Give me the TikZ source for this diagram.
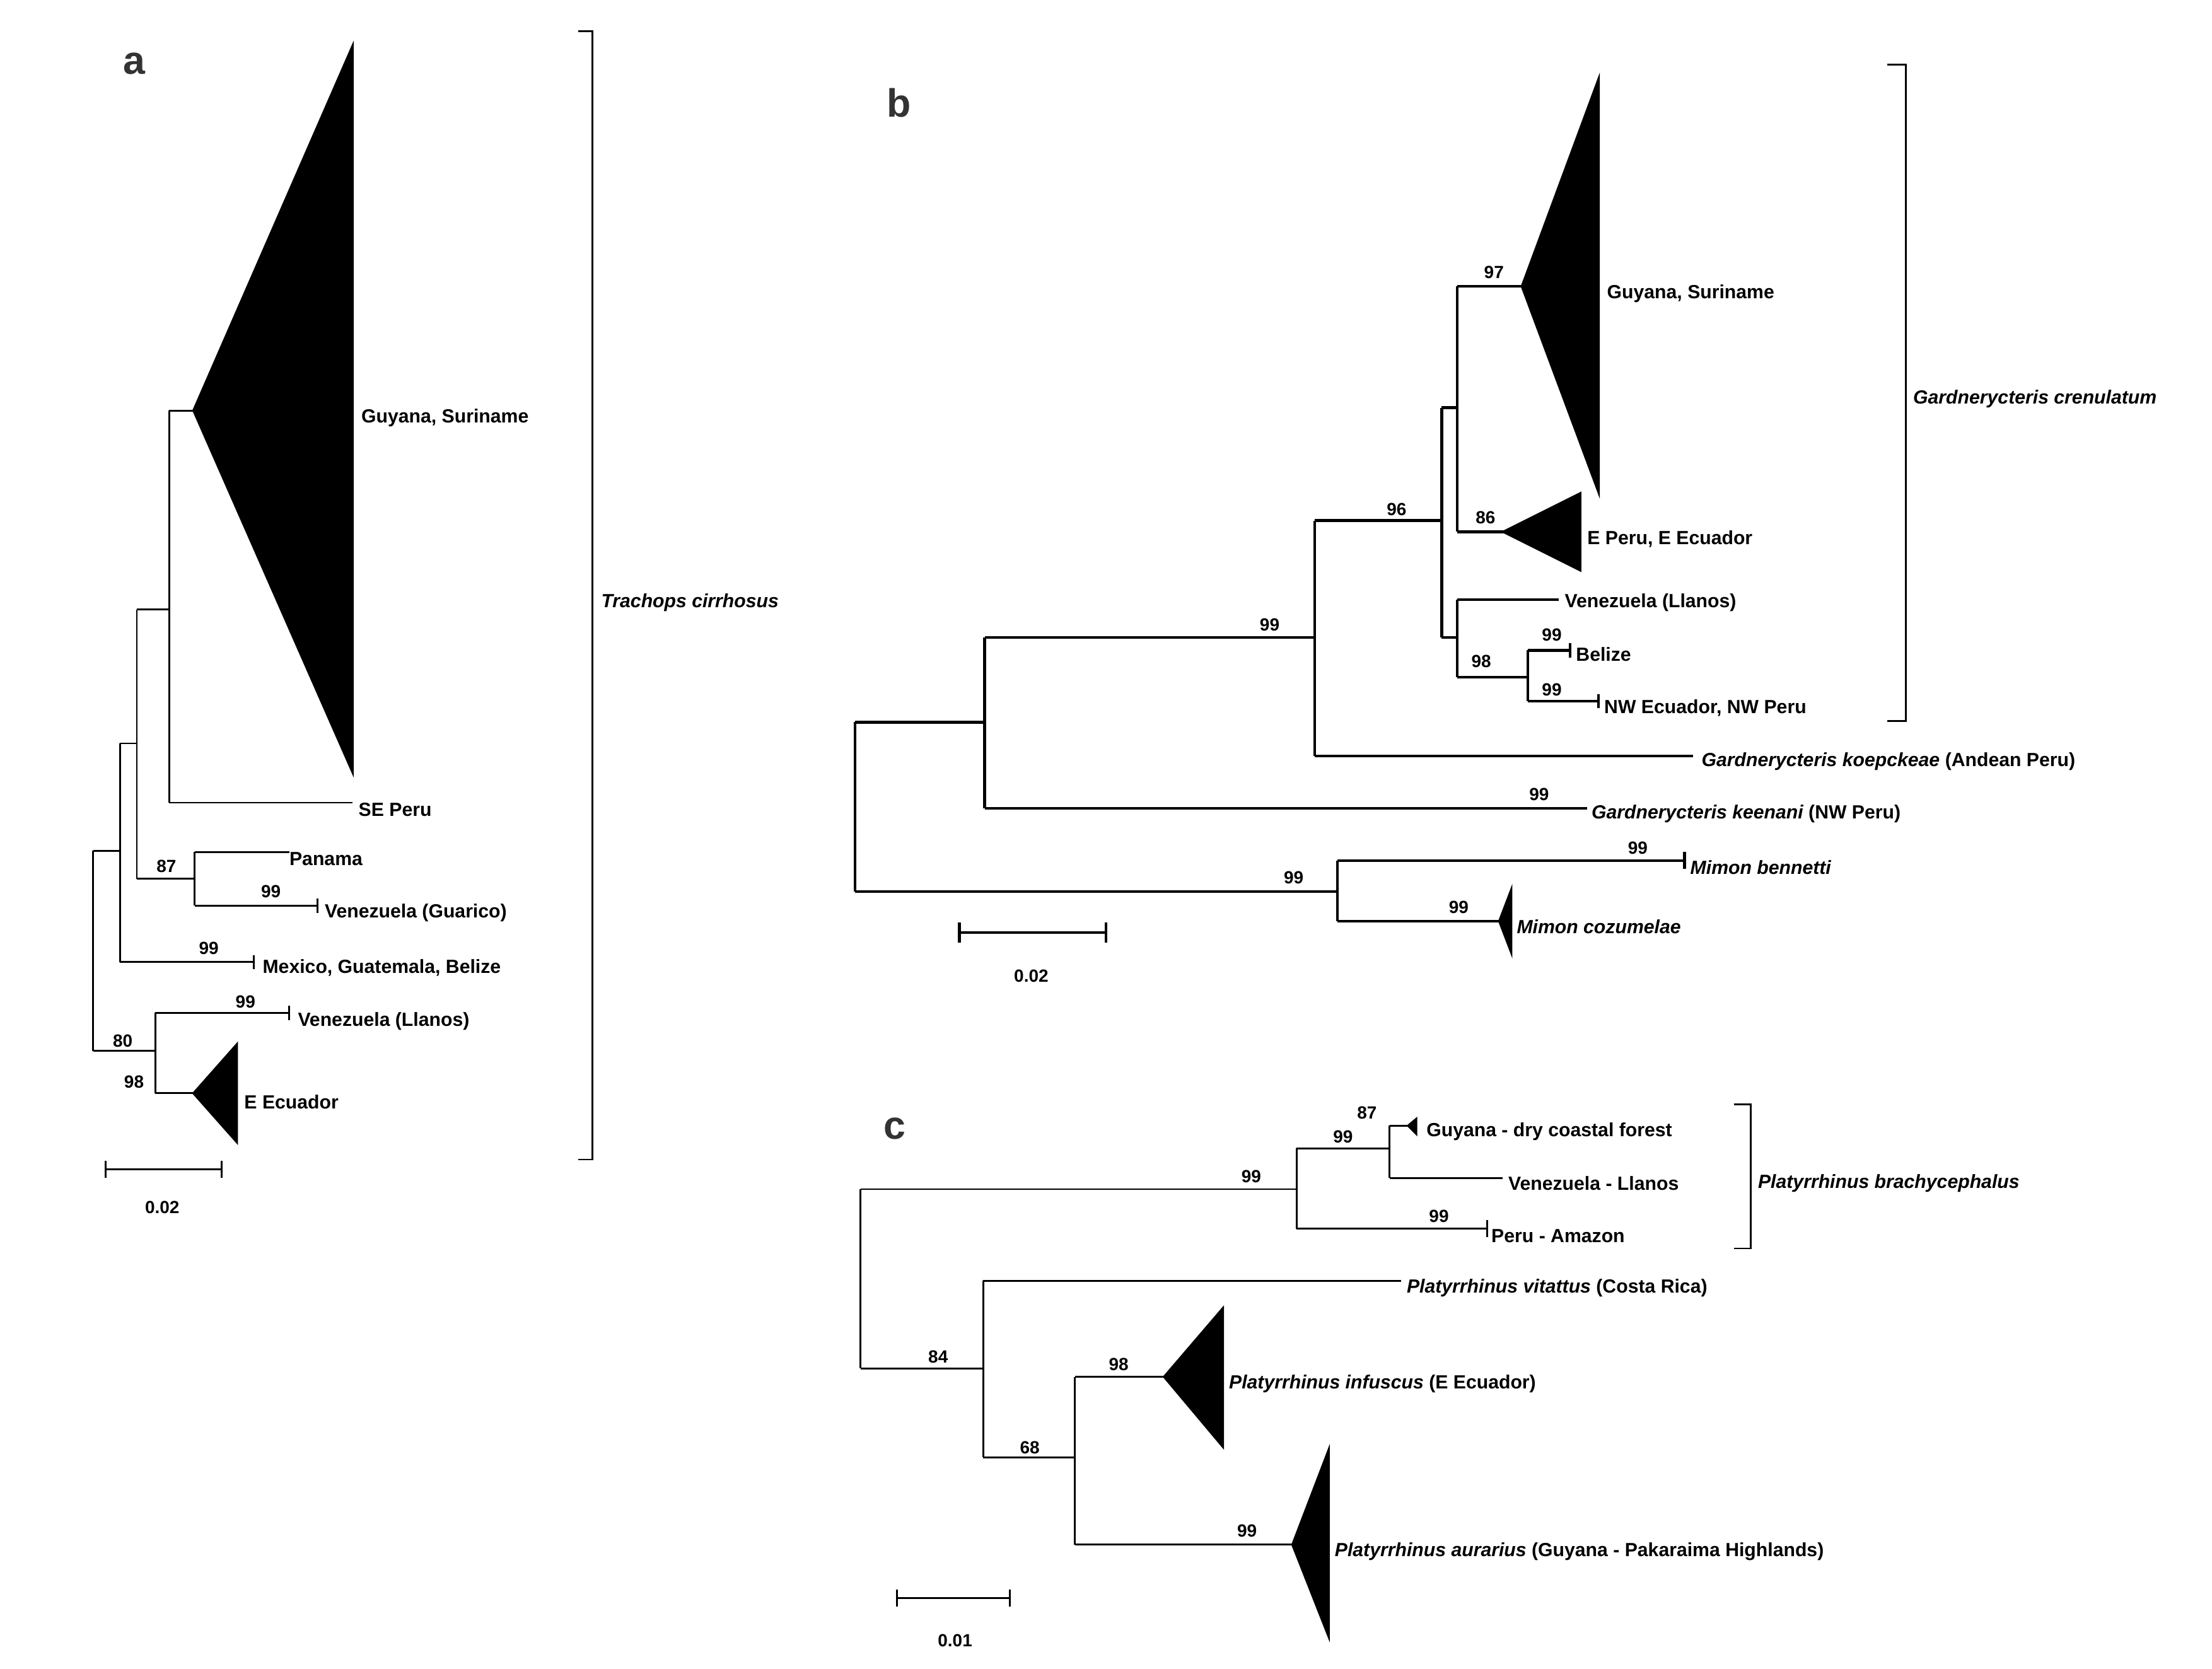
\documentclass[tikz,border=0pt]{standalone}
\usepackage{fontspec}
\setmainfont{Liberation Sans}
\begin{document}
\begin{tikzpicture}[x=1pt,y=-1pt,
 br/.style={line width=1.3pt},
 bb/.style={line width=2pt},
 lab/.style={font=\fontsize{13.5}{15}\selectfont\bfseries,anchor=west,inner sep=1pt},
 bs/.style={font=\fontsize{12.5}{14}\selectfont\bfseries,inner sep=1pt},
 pl/.style={font=\fontsize{28}{30}\selectfont\bfseries,text=black!80},
 tri/.style={fill=black,draw=black}]
\useasboundingbox (0,0) rectangle (1568,1183);
% ===== panel a
\node[pl] (pa) at (95,45) {a};
\begin{scope}[br]
\coordinate (ar) at (66,603);
\draw (66,603) -- (66,745);
\draw (66,603) -- (85,603) (85,527) -- (85,682);
\draw (85,527) -- (97,527) (97,432) -- (97,623);
\draw (97,432) -- (120,432) (120,291) -- (120,569);
\draw (120,291) -- (137,291);
\draw[tri] (137,291) -- (250,32) -- (250,548) -- cycle;
\draw (120,569) -- (250,569);
\draw (97,623) -- (138,623) (138,604) -- (138,642);
\draw (138,604) -- (205,604);
\draw (138,642) -- (225,642) (225,637) -- (225,647);
\draw (85,682) -- (180,682) (180,677) -- (180,687);
\draw (66,745) -- (110,745) (110,718) -- (110,775);
\draw (110,718) -- (205,718) (205,713) -- (205,723);
\draw (110,775) -- (137,775);
\draw[tri] (137,775) -- (168,740) -- (168,810) -- cycle;
\draw (75,829) -- (157,829) (75,823) -- (75,835) (157,823) -- (157,835);
\draw (410,22) -- (420,22) -- (420,822) -- (410,822);
\end{scope}
\node[lab] (a1) at (255,296) {Guyana, Suriname};
\node[lab] (a2) at (253,574) {SE Peru};
\node[lab] (a3) at (204,609) {Panama};
\node[lab] (a4) at (229,647) {Venezuela (Guarico)};
\node[lab] (a5) at (185,686) {Mexico, Guatemala, Belize};
\node[lab] (a6) at (210,724) {Venezuela (Llanos)};
\node[lab] (a7) at (172,781) {E Ecuador};
\node[bs] (ab1) at (118,614) {87};
\node[bs] (ab2) at (192,632) {99};
\node[bs] (ab3) at (148,672) {99};
\node[bs] (ab4) at (174,710) {99};
\node[bs] (ab5) at (87,738) {80};
\node[bs] (ab6) at (95,767) {98};
\node[bs] (asc) at (115,856) {0.02};
\node[lab,font=\fontsize{13.5}{15}\selectfont\bfseries\itshape] (asp) at (425,427) {Trachops cirrhosus};
% ===== panel b
\node[pl] (pb) at (637,73) {b};
\begin{scope}[bb]
\draw (606,512) -- (606,632);
\draw (606,512) -- (698,512) (698,452) -- (698,573);
\draw (698,452) -- (932,452) (932,369) -- (932,536);
\draw (698,573) -- (1125,573);
\draw (932,536) -- (1200,536);
\draw (932,369) -- (1022,369) (1022,289) -- (1022,452);
\draw (1022,289) -- (1033,289) (1033,203) -- (1033,377);
\draw (1033,203) -- (1079,203);
\draw[tri] (1079,203) -- (1133,57) -- (1133,348) -- cycle;
\draw (1033,377) -- (1066,377);
\draw[tri] (1066,377) -- (1120,350) -- (1120,404) -- cycle;
\draw (1022,452) -- (1033,452) (1033,425) -- (1033,480);
\draw (1033,425) -- (1105,425);
\draw (1033,480) -- (1083,480) (1083,461) -- (1083,497);
\draw (1083,461) -- (1113,461) (1113,456) -- (1113,466);
\draw (1083,497) -- (1133,497) (1133,492) -- (1133,502);
\draw (606,632) -- (948,632) (948,610) -- (948,653);
\draw (948,610) -- (1194,610) (1194,604) -- (1194,616);
\draw (948,653) -- (1063,653);
\draw[tri] (1063,653) -- (1071,632) -- (1071,674) -- cycle;
\draw (680,661) -- (784,661) (680,654) -- (680,668) (784,654) -- (784,668);
\end{scope}
\draw[br] (1338,46) -- (1351,46) -- (1351,511) -- (1338,511);
\node[lab] (b1) at (1138,208) {Guyana, Suriname};
\node[lab] (b2) at (1124,382) {E Peru, E Ecuador};
\node[lab] (b3) at (1108,427) {Venezuela (Llanos)};
\node[lab] (b4) at (1116,464) {Belize};
\node[lab] (b5) at (1136,502) {NW Ecuador, NW Peru};
\node[lab] (b6) at (1205,540) {\itshape Gardnerycteris koepckeae\upshape\ (Andean Peru)};
\node[lab] (b7) at (1127,577) {\itshape Gardnerycteris keenani\upshape\ (NW Peru)};
\node[lab] (b8) at (1197,615) {\itshape Mimon bennetti};
\node[lab] (b9) at (1074,657) {\itshape Mimon cozumelae};
\node[lab] (bsp) at (1355,283) {\itshape Gardnerycteris crenulatum};
\node[bs] (bb1) at (1059,193) {97};
\node[bs] (bb2) at (1053,367) {86};
\node[bs] (bb3) at (990,361) {96};
\node[bs] (bb4) at (900,443) {99};
\node[bs] (bb5) at (1100,450) {99};
\node[bs] (bb6) at (1050,469) {98};
\node[bs] (bb7) at (1100,489) {99};
\node[bs] (bb8) at (1091,563) {99};
\node[bs] (bb9) at (1161,601) {99};
\node[bs] (bb10) at (917,622) {99};
\node[bs] (bb11) at (1034,643) {99};
\node[bs] (bsc) at (731,692) {0.02};
% ===== panel c
\node[pl] (pc) at (634,800) {c};
\begin{scope}[br]
\draw (610,843) -- (610,970);
\draw (610,843) -- (919,843) (919,814) -- (919,871);
\draw (919,814) -- (985,814) (985,798) -- (985,835);
\draw (985,798) -- (998,798);
\draw[tri] (998,798) -- (1004,793) -- (1004,804) -- cycle;
\draw (985,835) -- (1065,835);
\draw (919,871) -- (1054,871) (1054,865) -- (1054,877);
\draw (610,970) -- (697,970) (697,908) -- (697,1033);
\draw (697,908) -- (993,908);
\draw (697,1033) -- (762,1033) (762,976) -- (762,1095);
\draw (762,976) -- (825,976);
\draw[tri] (825,976) -- (867,927) -- (867,1026) -- cycle;
\draw (762,1095) -- (916,1095);
\draw[tri] (916,1095) -- (942,1027) -- (942,1161) -- cycle;
\draw (636,1133) -- (716,1133) (636,1127) -- (636,1139) (716,1127) -- (716,1139);
\draw (1229,783) -- (1241,783) -- (1241,885) -- (1229,885);
\end{scope}
\node[lab] (c1) at (1010,802) {Guyana - dry coastal forest};
\node[lab] (c2) at (1068,839) {Venezuela - Llanos};
\node[lab] (c3) at (1056,876) {Peru - Amazon};
\node[lab] (c4) at (996,913) {\itshape Platyrrhinus vitattus\upshape\ (Costa Rica)};
\node[lab] (c5) at (870,981) {\itshape Platyrrhinus infuscus\upshape\ (E Ecuador)};
\node[lab] (c6) at (945,1100) {\itshape Platyrrhinus aurarius\upshape\ (Guyana - Pakaraima Highlands)};
\node[lab] (csp) at (1245,839) {\itshape Platyrrhinus brachycephalus};
\node[bs] (cb1) at (969,789) {87};
\node[bs] (cb2) at (952,806) {99};
\node[bs] (cb3) at (887,834) {99};
\node[bs] (cb4) at (1020,862) {99};
\node[bs] (cb5) at (665,962) {84};
\node[bs] (cb6) at (793,967) {98};
\node[bs] (cb7) at (730,1026) {68};
\node[bs] (cb8) at (884,1085) {99};
\node[bs] (csc) at (677,1163) {0.01};
\end{tikzpicture}
\end{document}
